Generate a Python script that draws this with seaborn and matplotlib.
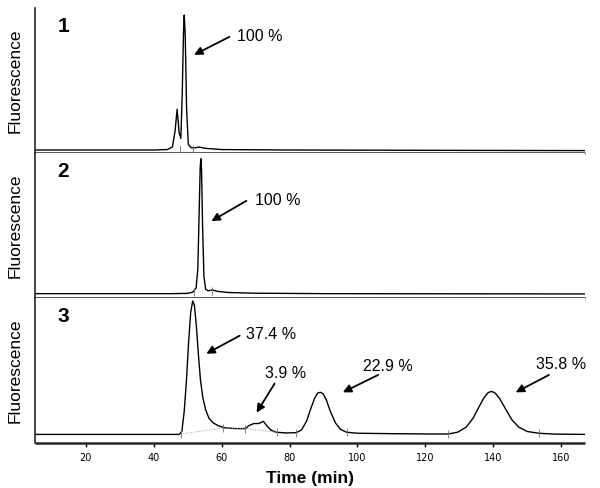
import matplotlib

matplotlib.use("Agg")
import matplotlib.pyplot as plt
import seaborn as sns

# trace 1: two close peaks
time_1 = [5, 40, 44, 45.5, 46.3, 46.9, 47.5, 48.0, 48.4, 48.8, 49.0, 49.3, 49.7,
          50.2, 51, 52, 53.5, 55, 60, 80, 120, 167]
signal_1 = [2, 2, 2.3, 4, 15, 30, 14, 10, 40, 85, 95, 80, 30,
            6, 3.5, 3.5, 4, 3.2, 2.3, 2, 1.8, 1.6]

# trace 2: single sharp peak
time_2 = [5, 45, 50, 51.5, 52.5, 53.0, 53.4, 53.7, 53.9, 54.1, 54.4, 54.8, 55.3,
          56, 57.3, 59, 62, 70, 90, 167]
signal_2 = [3, 3, 3.2, 4, 7, 20, 60, 90, 96, 88, 50, 15, 6,
            5, 5.5, 4.5, 3.8, 3.3, 3, 2.8]

# trace 3: four resolved peaks
time_3 = [5, 30, 45, 47.5, 48.3, 49.0, 49.7, 50.3, 50.9, 51.5, 52.0, 52.6, 53.2,
          53.8, 54.5, 55.3, 56.3, 57.5, 59, 61, 64, 67, 68, 69.5, 71, 72.3, 73.3,
          74.5, 76, 79, 82, 83.5, 85, 86.3, 87.4, 88.3, 89.1, 89.9, 90.8, 92,
          93.5, 95, 96.8, 100, 110, 120, 126.8, 129.5, 132, 134, 135.8, 137.3,
          138.5, 139.4, 140.4, 141.8, 143.5, 145.5, 147.5, 150, 153.4, 158, 167]
signal_3 = [6, 6, 6, 6, 8, 22, 45, 70, 90, 98, 95, 80, 60,
            43, 31, 23, 17, 14, 12, 10.5, 10, 10, 12, 13.5, 13.5, 15, 12,
            9, 7.5, 7, 7.2, 9, 15, 24, 31, 34.5, 35, 34, 30, 22,
            14, 9.5, 7.5, 6.8, 6.5, 6.3, 6.3, 7.5, 11, 17, 25, 31.5,
            34.8, 35.6, 34.8, 31, 24, 16, 11, 8, 6.8, 6.2, 6]

# integration baseline under the first peaks of trace 3
base_time_3 = [48, 59.3, 67, 76.2]
base_signal_3 = [6.2, 10, 10, 7.5]

# integration start/stop marks
marks_time = [[47.8, 51.7], [52.0, 57.3], [48, 60.5, 67, 76.2, 82, 96.8, 126.8, 153.4]]
marks_signal = [[3, 3], [4, 5], [6.2, 10.5, 10, 7.5, 7.2, 7.5, 6.3, 6.8]]

panel_labels = ["1", "2", "3"]
notes = [
    [("100 %", 64.4, 80, (51.9, 67.6), (62.3, 80))],
    [("100 %", 69.7, 67, (57.0, 53), (67.3, 67))],
    [("37.4 %", 67.3, 75, (55.5, 61.6), (65.3, 74)),
     ("3.9 %", 72.7, 48, (70.3, 21), (75.6, 41)),
     ("22.9 %", 101.6, 53, (95.7, 35), (106.1, 47)),
     ("35.8 %", 152.5, 54, (146.6, 35), (156.4, 47))],
]
x_ticks = [20, 40, 60, 80, 100, 120, 140, 160]

sns.set_style("ticks")
plt.rcParams["font.family"] = ["Liberation Sans", "DejaVu Sans"]
plt.rcParams["text.color"] = "black"
plt.rcParams["axes.labelcolor"] = "black"
plt.rcParams["xtick.color"] = "black"

fig, axes = plt.subplots(3, 1, figsize=(6, 4.88), dpi=100, sharex=True)
fig.subplots_adjust(left=0.058, right=0.975, bottom=0.092, top=0.984, hspace=0)

traces = [(time_1, signal_1), (time_2, signal_2), (time_3, signal_3)]
for i, ax in enumerate(axes):
    t, s = traces[i]
    sns.lineplot(x=t, y=s, ax=ax, color="black", linewidth=1.0,
                 estimator=None, sort=False)
    ax.scatter(marks_time[i], marks_signal[i], marker="|", s=30,
               color="0.45", linewidths=0.6, zorder=3)
    ax.set_xlim(5, 167)
    ax.set_ylim(0, 100)
    ax.set_yticks([])
    ax.set_ylabel("Fluorescence", fontsize=12.5)
    ax.yaxis.set_label_coords(-0.022, 0.5)
    for side in ["top", "right"]:
        ax.spines[side].set_visible(False)
    ax.spines["bottom"].set_linewidth(1.8)
    ax.spines["bottom"].set_capstyle("butt")
    ax.spines["left"].set_linewidth(1.2)
    ax.text(0.052, 0.87, panel_labels[i], transform=ax.transAxes, fontsize=15,
            fontweight="bold", va="center", ha="center")
    for text, tx, ty, head, tail in notes[i]:
        ax.text(tx, ty, text, fontsize=11.5, va="center", ha="left")
        ax.annotate("", xy=head, xytext=tail,
                    arrowprops=dict(arrowstyle="-|>", color="black", lw=1.3,
                                    mutation_scale=12, shrinkA=0, shrinkB=0))

sns.lineplot(x=base_time_3, y=base_signal_3, ax=axes[2], color="0.6",
             linewidth=0.7, linestyle=":", estimator=None, sort=False)

for ax in axes[:2]:
    ax.tick_params(axis="x", length=0, labelbottom=False)

axes[2].set_xticks(x_ticks)
axes[2].set_xticklabels([str(v) for v in x_ticks], fontsize=7,
                        family="DejaVu Sans")
axes[2].tick_params(axis="x", length=3, width=1, pad=4)
axes[2].set_xlabel("Time (min)", fontsize=12.5, fontweight="bold", labelpad=6)

fig.savefig("out.png", dpi=100)
